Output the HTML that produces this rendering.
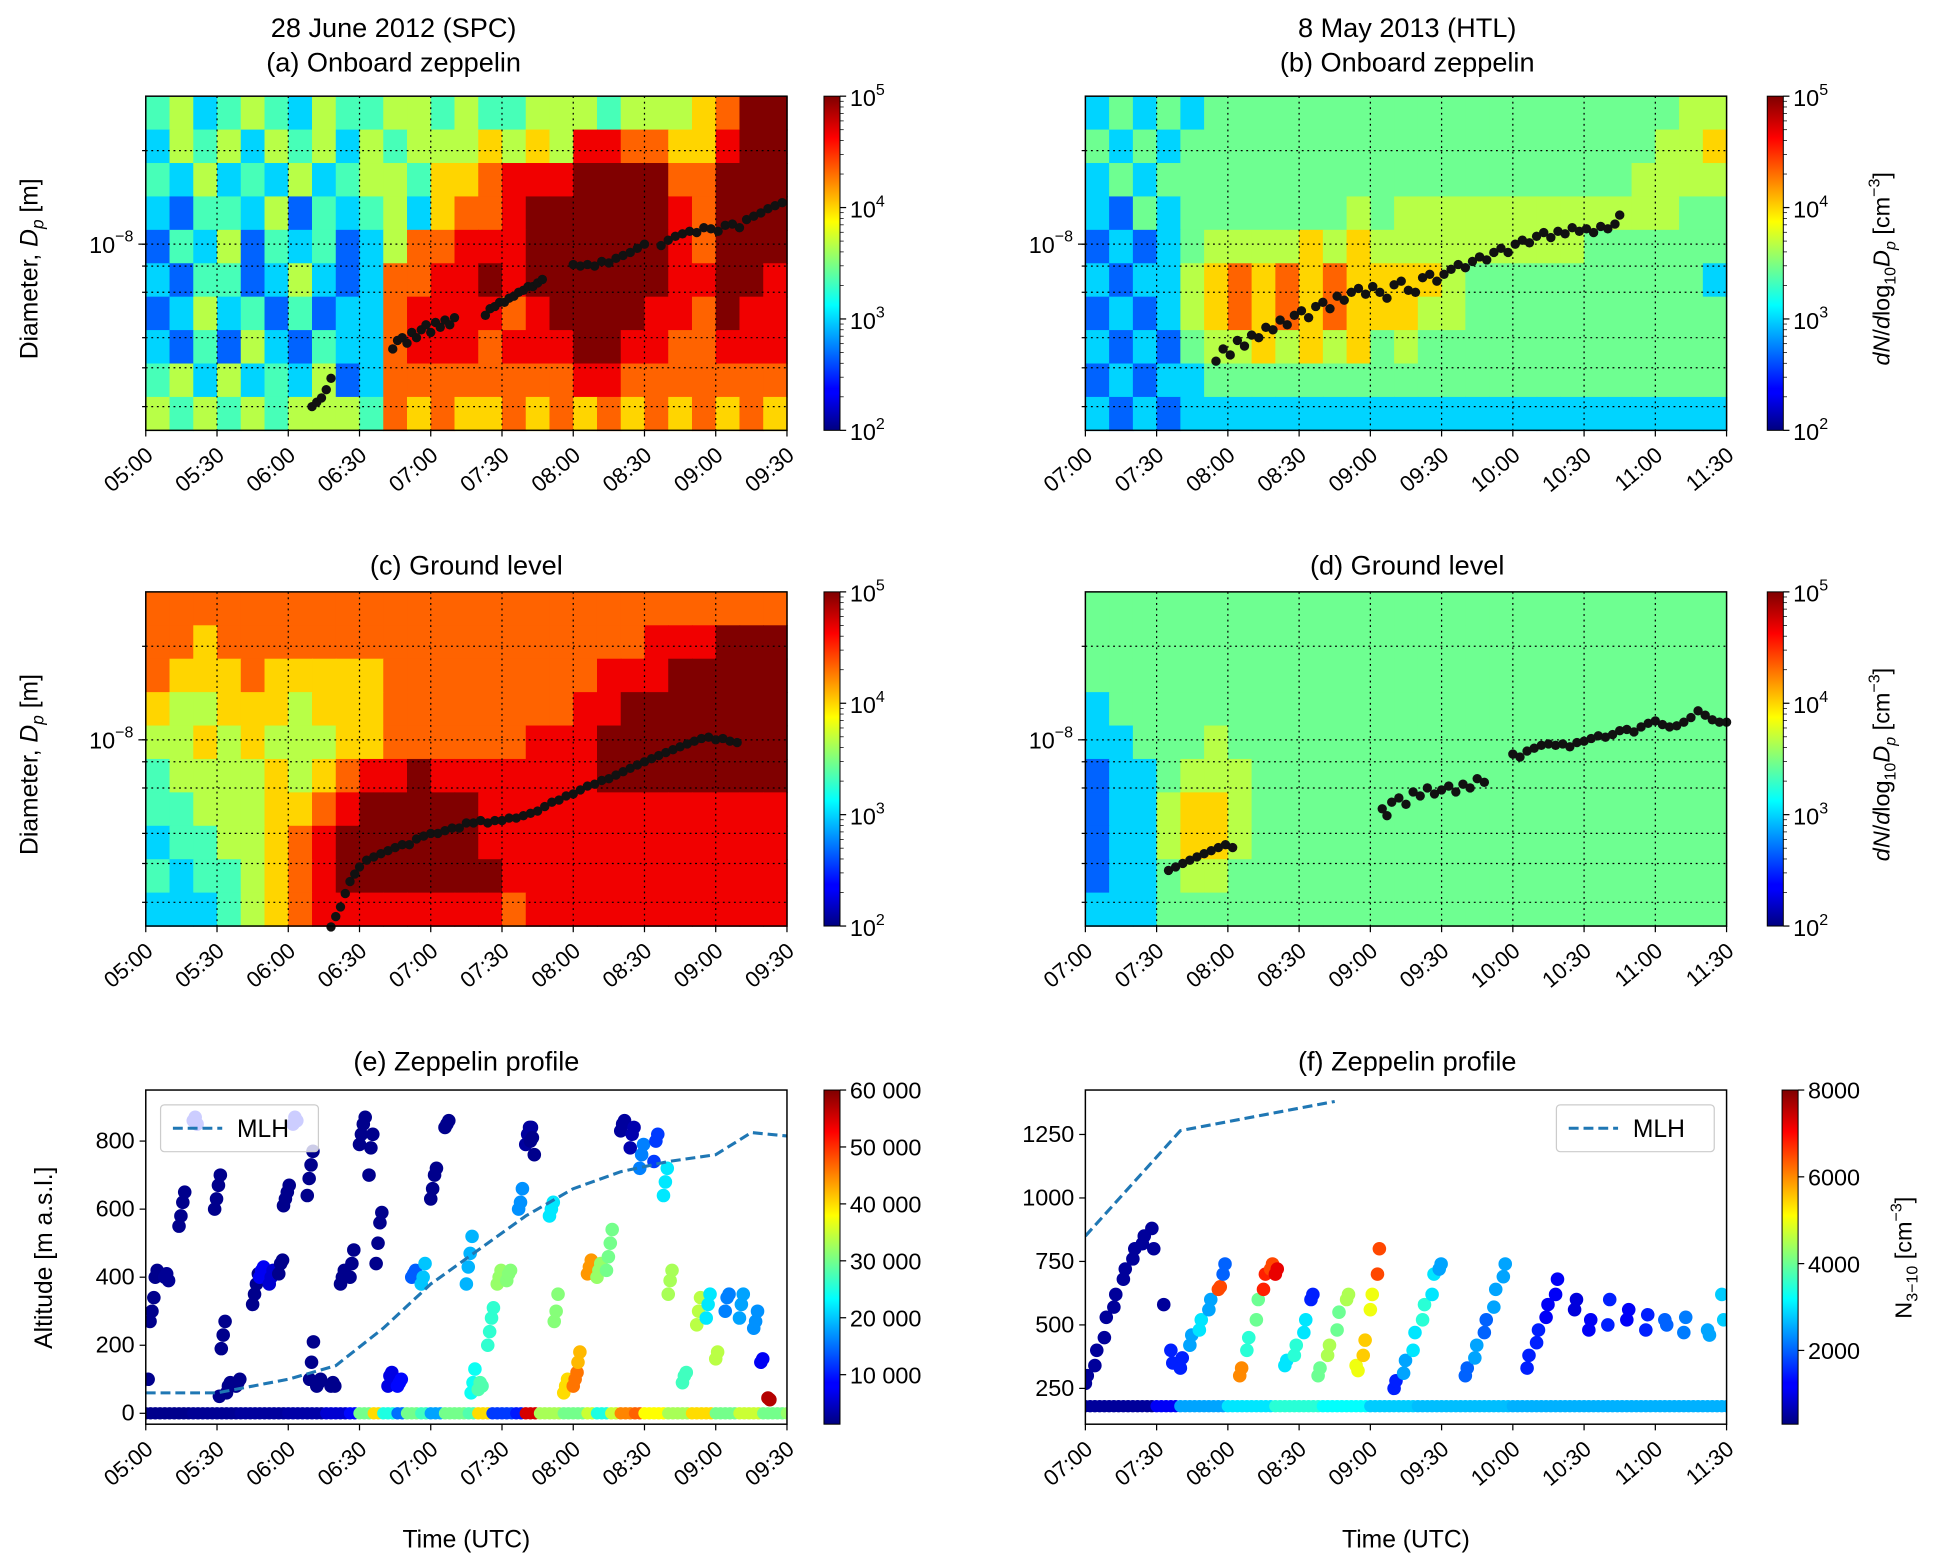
<!DOCTYPE html>
<html><head><meta charset="utf-8"><style>
html,body{margin:0;padding:0;background:#fff;}
svg{display:block;font-family:"Liberation Sans","DejaVu Sans",sans-serif;}
</style></head><body>
<svg id="fig" width="1934" height="1566" viewBox="0 0 1568 1270" xmlns="http://www.w3.org/2000/svg">
<defs>
<linearGradient id="jetg" x1="0" y1="1" x2="0" y2="0">
<stop offset="0" stop-color="#00007f"/><stop offset="0.11" stop-color="#0000ff"/><stop offset="0.125" stop-color="#0000ff"/><stop offset="0.34" stop-color="#00dcff"/><stop offset="0.375" stop-color="#00ffff"/><stop offset="0.5" stop-color="#7fff7f"/><stop offset="0.625" stop-color="#ffff00"/><stop offset="0.66" stop-color="#ffdc00"/><stop offset="0.875" stop-color="#ff0000"/><stop offset="1" stop-color="#7f0000"/>
</linearGradient>
</defs>
</svg>
<script>
// ---------- DATA ----------
// digits 0-9 = log-level steps; 'x' = level 4.35
const heatA = ["453454354455454455545556799","354535453545556565887766899","435343534554667888999977999","324435243453677899999987999","243524342357788899999987999","324423532377889899999988998","235342423378888789999887988","324253243378887888998877888","453534352377777777887777777","545454555476766767676767676"];
const heatB = ["3x3x3xxxxxxxxxxxxxxxxxxxx55","x3x3xxxxxxxxxxxxxxxxxxxx556","3x3xxxxxxxxxxxxxxxxxxxx5555","32x3xxxxxxx5x555555555555xx","2323x5555656555555555xxxxxx","3233567676766665xxxxxxxxxx3","2323567676766655xxxxxxxxxxx","3232x5565656x5xxxxxxxxxxxxx","23233xxxxxxxxxxxxxxxxxxxxxx","323233333333333333333333333"];
const heatC = ["777777777777777777777777777","776777777777777777777888999","766676666677777777788899999","655666566677777777889999999","556565556677777788899999999","455556567889888888899999999","445556678999998888888888888","344556789999998888888888888","434456789999999888888888888","333456788888888788888888888"];
const heatD = ["xxxxxxxxxxxxxxxxxxxxxxxxxxx","xxxxxxxxxxxxxxxxxxxxxxxxxxx","xxxxxxxxxxxxxxxxxxxxxxxxxxx","3xxxxxxxxxxxxxxxxxxxxxxxxxx","33xxx5xxxxxxxxxxxxxxxxxxxxx","233x555xxxxxxxxxxxxxxxxxxxx","2335665xxxxxxxxxxxxxxxxxxxx","2335665xxxxxxxxxxxxxxxxxxxx","233x55xxxxxxxxxxxxxxxxxxxxx","333xxxxxxxxxxxxxxxxxxxxxxxx"];
const dotsA = [[70,3.0],[72,3.1],[74,3.2],[76,3.4],[78,3.7],[104,4.6],[106,4.9],[108,5.0],[110,4.8],[112,5.2],[114,5.0],[116,5.3],[118,5.5],[120,5.2],[122,5.6],[124,5.4],[126,5.7],[128,5.5],[130,5.8],[143,5.9],[145,6.2],[147,6.3],[149,6.5],[151,6.5],[153,6.7],[155,6.8],[157,7.0],[159,7.1],[161,7.3],[163,7.3],[165,7.5],[167,7.7],[180,8.6],[183,8.5],[186,8.6],[189,8.5],[192,8.8],[195,8.7],[198,9.0],[201,9.2],[204,9.4],[207,9.7],[210,10.0],[217,9.9],[220,10.3],[223,10.6],[226,10.8],[229,11.0],[232,10.9],[235,11.3],[238,11.2],[241,11.0],[244,11.5],[247,11.6],[250,11.3],[253,12.0],[256,12.3],[259,12.6],[262,13.0],[265,13.3],[268,13.6]];
const dotsB = [[55,4.2],[58,4.6],[61,4.4],[64,4.9],[67,4.7],[70,5.1],[73,5.0],[76,5.4],[79,5.3],[82,5.7],[85,5.5],[88,5.9],[91,6.1],[94,5.8],[97,6.3],[100,6.5],[103,6.2],[106,6.8],[109,6.6],[112,7.0],[115,7.2],[118,6.9],[121,7.3],[124,7.0],[127,6.7],[130,7.4],[133,7.6],[136,7.1],[139,7.0],[142,7.8],[145,8.0],[148,7.6],[151,8.0],[154,8.3],[157,8.6],[160,8.4],[163,8.8],[166,9.1],[169,8.9],[172,9.4],[175,9.7],[178,9.4],[181,10.0],[184,10.3],[187,10.1],[190,10.6],[193,10.9],[196,10.5],[199,11.0],[202,10.8],[205,11.3],[208,11.0],[211,11.2],[214,10.9],[217,11.4],[220,11.2],[223,11.6],[225,12.4]];
const dotsC = [[78,2.5],[80,2.7],[82,2.9],[84,3.2],[86,3.5],[88,3.7],[90,3.9],[93,4.1],[96,4.2],[99,4.3],[102,4.4],[105,4.5],[108,4.6],[111,4.6],[114,4.8],[117,4.9],[120,5.0],[123,5.0],[126,5.1],[129,5.2],[132,5.2],[135,5.4],[138,5.4],[141,5.5],[144,5.4],[147,5.5],[150,5.5],[153,5.6],[156,5.6],[159,5.7],[162,5.8],[165,5.9],[168,6.1],[171,6.3],[174,6.4],[177,6.6],[180,6.7],[183,6.9],[186,7.1],[189,7.2],[192,7.4],[195,7.5],[198,7.7],[201,7.9],[204,8.1],[207,8.3],[210,8.5],[213,8.7],[216,8.9],[219,9.1],[222,9.3],[225,9.5],[228,9.7],[231,9.9],[234,10.1],[237,10.2],[240,10.0],[243,10.1],[246,9.9],[249,9.8]];
const dotsD = [[35,3.8],[38,3.9],[41,4.0],[44,4.1],[47,4.2],[50,4.3],[53,4.4],[56,4.5],[59,4.6],[62,4.5],[125,6.0],[127,5.7],[129,6.3],[132,6.5],[135,6.2],[138,6.8],[141,6.6],[144,7.0],[147,6.7],[150,6.9],[153,7.1],[156,6.8],[159,7.2],[162,7.0],[165,7.5],[168,7.3],[180,9.0],[183,8.8],[186,9.2],[189,9.4],[192,9.6],[195,9.7],[198,9.6],[201,9.7],[204,9.5],[207,9.8],[210,9.9],[213,10.1],[216,10.3],[219,10.2],[222,10.4],[225,10.7],[228,10.8],[231,10.6],[234,11.0],[237,11.3],[240,11.5],[243,11.2],[246,11.0],[249,11.1],[252,11.4],[255,11.8],[258,12.4],[261,12.0],[264,11.6],[267,11.4],[270,11.4]];
const scatE = [[1,[100,270,300,340],2000],[4,[400,420,410],2000],[8,[400,410,390],2500],[14,[550,580,620,650],2000],[20,[860,870,850],9000],[29,[600,630,670,700],2000],[31,[50,190,230,270],2000],[34,[60,80,90],2000],[38,[80,90,100],2000],[45,[320,350,380,410],2000],[48,[400,420,430],8000],[52,[380,400,420],6000],[56,[410,440,450],2000],[58,[610,630,650,670],2000],[62,[850,870,860],9000],[68,[640,690,730,770],2000],[69,[100,150,210],2000],[72,[80,90,100],2000],[78,[80,90,80],2000],[82,[380,400,420],2000],[86,[400,440,480],2000],[90,[790,820,850,870],2000],[94,[700,780,820],2000],[97,[440,500,560,590],2000],[102,[80,110,120],7000],[106,[80,90,100],9000],[112,[400,410,420],14000],[116,[380,400,440],20000],[120,[630,660,700,720],2000],[126,[840,850,860],2000],[135,[380,430,470,520],19000],[137,[60,90,130],24000],[140,[70,90,80],28000],[144,[200,240,280,310],26000],[148,[380,400,420],32000],[152,[390,410,420],31000],[157,[600,620,660],17000],[160,[790,820,840,840],3000],[162,[800,810,760],2000],[170,[580,600,620],22000],[172,[270,300,350],31000],[176,[60,80,100],40000],[180,[80,100,120],46000],[182,[150,180],42000],[186,[410,430,450],44000],[190,[400,420,440],32000],[194,[420,460,500,540],30000],[200,[830,850,860],3000],[204,[780,820,840],4000],[208,[720,760,790],16000],[214,[740,800,820],12000],[218,[640,680,720],22000],[220,[350,390,420],33000],[226,[90,110,120],27000],[232,[260,300,340],34000],[236,[280,320,350],22000],[240,[160,180],34000],[244,[300,340,350],16000],[250,[280,320,350],18000],[256,[250,270,300],17000],[259,[150,160],8000],[262,[45,40],57000]];
const groundE = [[0,2000],[20,2500],[40,3000],[60,3500],[75,6000],[85,9000],[90,30000],[95,40000],[100,25000],[105,15000],[110,30000],[115,27000],[120,18000],[125,30000],[135,28000],[140,40000],[145,12000],[155,10000],[160,55000],[165,33000],[175,30000],[185,35000],[190,25000],[195,35000],[200,45000],[205,47000],[210,38000],[220,33000],[230,40000],[240,30000],[250,35000],[260,30000],[270,32000]];
const mlhE_t = [0,30,60,80,100,120,140,160,180,200,220,240,255,270];
const mlhE_h = [60,60,100,140,250,380,480,580,660,710,740,760,825,815];
const scatF = [[0,[270,300],500],[4,[340,400],500],[8,[450,530],500],[12,[570,620],500],[16,[680,720],500],[20,[760,800],500],[24,[820,850],500],[28,[880,800],500],[33,[580],500],[36,[400,350],1500],[40,[330,370],1500],[44,[420,460],2500],[48,[480,520],3000],[52,[560,600],2500],[56,[640,650],6500],[58,[700,740],2000],[65,[300,330],6000],[68,[400,450],3500],[72,[520,600],4000],[75,[640,700],6800],[78,[720,740],6500],[80,[700,720],7200],[84,[340,360],3000],[88,[380,420],3500],[92,[470,520],3000],[95,[600,620],1500],[98,[300,330],4000],[102,[380,420],4500],[106,[480,550],4000],[110,[600,620],4500],[114,[340,320],5000],[117,[380,440],5500],[120,[560,620],5000],[123,[700,800],6500],[130,[250,280],1500],[134,[310,360],2500],[138,[400,470],3000],[142,[520,580],3500],[146,[620,700],3000],[149,[720,740],2500],[160,[300,330],2000],[164,[370,420],2500],[168,[470,520],2000],[172,[570,640],2500],[176,[690,740],2500],[186,[330,380],1500],[190,[430,480],1500],[194,[530,580],1200],[198,[620,680],1200],[206,[560,600],1000],[212,[480,520],1200],[220,[500,600],1500],[228,[520,560],1200],[236,[480,540],1500],[244,[520,500],2000],[252,[470,530],2200],[262,[480,460],2500],[268,[620,520],2800]];
const groundF = [[0,500],[30,1200],[40,2500],[60,3000],[80,3500],[100,3200],[120,2800],[140,2700],[180,2600],[220,2600],[270,2600]];
const mlhF_t = [0,40,105];
const mlhF_h = [850,1265,1380];
const timeLabelsA = ["05:00","05:30","06:00","06:30","07:00","07:30","08:00","08:30","09:00","09:30"];
const timeLabelsB = ["07:00","07:30","08:00","08:30","09:00","09:30","10:00","10:30","11:00","11:30"];
const gridDiam = [20,10,8.5,7,5,4,3];
const ticksE = [0,200,400,600,800];
const ticksF = [250,500,750,1000,1250];
const cbTicksE = [10000,20000,30000,40000,50000,60000];
const cbTicksF = [2000,4000,6000,8000];

// ---------- DRAWING ----------
const NS="http://www.w3.org/2000/svg";
const svg=document.getElementById('fig');
function el(tag,attrs,parent,txt){const e=document.createElementNS(NS,tag);for(const k in attrs)e.setAttribute(k,attrs[k]);if(txt!==undefined)e.textContent=txt;(parent||svg).appendChild(e);return e;}
function jet(t){t=Math.max(0,Math.min(1,t));const c=v=>Math.round(255*Math.max(0,Math.min(1,v)));return `rgb(${c(1.5-Math.abs(4*t-3))},${c(1.5-Math.abs(4*t-2))},${c(1.5-Math.abs(4*t-1))})`;}
function level(ch){return ch==='x'?4.35:+ch;}
const W=520,H=271,SPAN=270;
function xs(x0,m){return x0+m/SPAN*W;}
function yDiam(y0,d){return y0+120-Math.log10(d/10)*252;}

function timeAxis(x0,y0,labels,nm){
  labels.forEach((lb,i)=>{const x=xs(x0,i*30);
    el('line',{x1:x,y1:y0+H,x2:x,y2:y0+H+5,stroke:'#000','stroke-width':1});
    const t=el('text',{x:x+7,y:y0+H+22,'text-anchor':'end','font-size':18,transform:`rotate(-40 ${x+7} ${y0+H+22})`},svg,lb);
    
    
  });
}
function frame(x0,y0,nm){const r=el('rect',{x:x0,y:y0,width:W,height:H,fill:'none',stroke:'#000','stroke-width':1.2});}
function title(x,y,lines,nm){lines.forEach((l,i)=>{const t=el('text',{x:x,y:y+i*28,'text-anchor':'middle','font-size':22},svg,l);});}
function colorbar(x,y,h,nm){const r=el('rect',{x:x,y:y,width:13,height:h,fill:'url(#jetg)',stroke:'#000','stroke-width':0.8});}
function logColorbarTicks(x,y0,nm){
  [2,3,4,5].forEach(p=>{const y=y0+H-(p-2)/3*H;
    el('line',{x1:x+13,y1:y,x2:x+18,y2:y,stroke:'#000'});
    const t=el('text',{x:x+21,y:y+8,'font-size':19},svg,'10');
    el('tspan',{dy:-9,'font-size':13},t,String(p));
    
    for(let k=2;k<10;k++){if(p===5)break;const yy=y-Math.log10(k)/3*H;el('line',{x1:x+13,y1:yy,x2:x+16,y2:yy,stroke:'#000','stroke-width':0.6});}
  });
}
function heatPanel(x0,y0,rows,dots,labels,nm){
  const g=el('g',{});
  const nr=rows.length,nc=rows[0].length,cw=W/nc,ch=H/nr;
  rows.forEach((row,r)=>{for(let c=0;c<nc;c++){const d=level(row[c]);
    const cell=el('rect',{x:x0+c*cw,y:y0+r*ch,width:cw+0.6,height:ch+0.6,fill:jet(d/9)},g);
    
    }});
  for(let i=1;i<9;i++){const x=xs(x0,i*30);el('line',{x1:x,y1:y0,x2:x,y2:y0+H,stroke:'#000','stroke-width':1,'stroke-dasharray':'1.5,3'});}
  gridDiam.forEach(d=>{const y=yDiam(y0,d);el('line',{x1:x0,y1:y,x2:x0+W,y2:y,stroke:'#000','stroke-width':1,'stroke-dasharray':'1.5,3'});
    el('line',{x1:x0-3,y1:y,x2:x0,y2:y,stroke:'#000'});});
  el('line',{x1:x0-6,y1:yDiam(y0,10),x2:x0,y2:yDiam(y0,10),stroke:'#000'});
  const yl=el('text',{x:x0-10,y:yDiam(y0,10)+7,'text-anchor':'end','font-size':19},svg,'10');
  el('tspan',{dy:-9,'font-size':13},yl,'−8');
  const dg=el('g',{});
  dots.forEach(p=>{const c=el('circle',{cx:xs(x0,p[0]),cy:yDiam(y0,p[1]),r:3.8,fill:'#111'},dg);
    
    });
  frame(x0,y0,nm);timeAxis(x0,y0,labels,nm);
}
function yLabelDiam(y0){const t=el('text',{transform:`translate(30 ${y0+140}) rotate(-90)`,'text-anchor':'middle','font-size':20},svg,'Diameter, ');
  el('tspan',{'font-style':'italic'},t,'D');el('tspan',{'font-style':'italic','font-size':14,dy:5},t,'p');el('tspan',{dy:-5},t,'  [m]');
  }
function yLabelCb(x,y0){const t=el('text',{transform:`translate(${x} ${y0+140}) rotate(-90)`,'text-anchor':'middle','font-size':19},svg,'');
  el('tspan',{'font-style':'italic'},t,'dN');el('tspan',{},t,'/');el('tspan',{'font-style':'italic'},t,'d');el('tspan',{},t,'log');
  el('tspan',{'font-size':13,dy:5},t,'10');el('tspan',{'font-style':'italic',dy:-5},t,'D');el('tspan',{'font-style':'italic','font-size':13,dy:5},t,'p');
  el('tspan',{dy:-5},t,' [cm');el('tspan',{'font-size':13,dy:-8},t,'−3');el('tspan',{dy:8},t,']');
  }

title(319,30,["28 June 2012 (SPC)","(a) Onboard zeppelin"],'panel-a');
title(1141,30,["8 May 2013 (HTL)","(b) Onboard zeppelin"],'panel-b');
heatPanel(118,78,heatA,dotsA,timeLabelsA,'panel-a');
heatPanel(880,78,heatB,dotsB,timeLabelsB,'panel-b');
colorbar(668,78,H,'panel-a');logColorbarTicks(668,78,'panel-a');
colorbar(1433,78,H,'panel-b');logColorbarTicks(1433,78,'panel-b');
yLabelDiam(78);yLabelCb(1532,78);
title(378,466,["(c) Ground level"],'panel-c');
title(1141,466,["(d) Ground level"],'panel-d');
heatPanel(118,480,heatC,dotsC,timeLabelsA,'panel-c');
heatPanel(880,480,heatD,dotsD,timeLabelsB,'panel-d');
colorbar(668,480,H,'panel-c');logColorbarTicks(668,480,'panel-c');
colorbar(1433,480,H,'panel-d');logColorbarTicks(1433,480,'panel-d');
yLabelDiam(480);yLabelCb(1532,480);

function scatterPanel(x0,y0,ymin,ymax,vmin,vmax,clusters,ground,groundAlt,mlhT,mlhH,yticks,cbticks,labels,legX,nm,fmt){
  const ys=a=>y0+H-(a-ymin)/(ymax-ymin)*H;
  const col=v=>jet((v-vmin)/(vmax-vmin));
  const clip=el('clipPath',{id:'clip-'+nm});el('rect',{x:x0,y:y0,width:W,height:H},clip);
  const g=el('g',{'clip-path':`url(#clip-${nm})`});
  for(let m=0;m<=SPAN;m+=2){let v=ground[0][1];ground.forEach(p=>{if(p[0]<=m)v=p[1];});
    const c=el('circle',{cx:xs(x0,m),cy:ys(groundAlt),r:5,fill:col(v)},g);
    
    }
  clusters.forEach(cl=>{cl[1].forEach((a,i)=>{
    const c=el('circle',{cx:xs(x0,cl[0]+i*0.8),cy:ys(a),r:5.5,fill:col(cl[2])},g);
    
    });});
  const pts=mlhT.map((t,i)=>xs(x0,t)+','+ys(mlhH[i])).join(' ');
  const ml=el('polyline',{points:pts,fill:'none',stroke:'#1f77b4','stroke-width':2.5,'stroke-dasharray':'8,4'},g);
  
  frame(x0,y0,nm);timeAxis(x0,y0,labels,nm);
  yticks.forEach(v=>{const y=ys(v);el('line',{x1:x0-5,y1:y,x2:x0,y2:y,stroke:'#000'});
    const t=el('text',{x:x0-9,y:y+6,'text-anchor':'end','font-size':19},svg,String(v));});
  const cx=x0+550+(nm==='panel-f'?15:0);
  colorbar(cx,y0,H,nm);
  cbticks.forEach(v=>{const y=y0+H-(v-vmin)/(vmax-vmin)*H;el('line',{x1:cx+13,y1:y,x2:cx+18,y2:y,stroke:'#000'});
    const t=el('text',{x:cx+21,y:y+7,'font-size':19},svg,fmt(v));});
  const lg=el('g',{});
  el('rect',{x:legX,y:y0+12,width:128,height:38,rx:3,fill:'rgba(255,255,255,0.8)',stroke:'#ccc'},lg);
  el('line',{x1:legX+10,y1:y0+31,x2:legX+50,y2:y0+31,stroke:'#1f77b4','stroke-width':2.5,'stroke-dasharray':'8,4'},lg);
  el('text',{x:legX+62,y:y0+38,'font-size':20},lg,'MLH');
  const xt=el('text',{x:x0+260,y:y0+H+100,'text-anchor':'middle','font-size':20},svg,'Time (UTC)');
}
title(378,868,["(e) Zeppelin profile"],'panel-e');
title(1141,868,["(f) Zeppelin profile"],'panel-f');
scatterPanel(118,884,-32,950,1300,60000,scatE,groundE,0,mlhE_t,mlhE_h,ticksE,cbTicksE,timeLabelsA,130,'panel-e',v=>(v/1000)+' 000');
scatterPanel(880,884,109,1425,300,8000,scatF,groundF,180,mlhF_t,mlhF_h,ticksF,cbTicksF,timeLabelsB,1262,'panel-f',v=>String(v));
const ya=el('text',{transform:'translate(42 1020) rotate(-90)','text-anchor':'middle','font-size':20},svg,'Altitude [m a.s.l.]');

const nf=el('text',{transform:'translate(1550 1020) rotate(-90)','text-anchor':'middle','font-size':19},svg,'N');
el('tspan',{'font-size':13,dy:5},nf,'3−10');el('tspan',{dy:-5},nf,' [cm');el('tspan',{'font-size':13,dy:-8},nf,'−3');el('tspan',{dy:8},nf,']');

</script>
</body></html>
